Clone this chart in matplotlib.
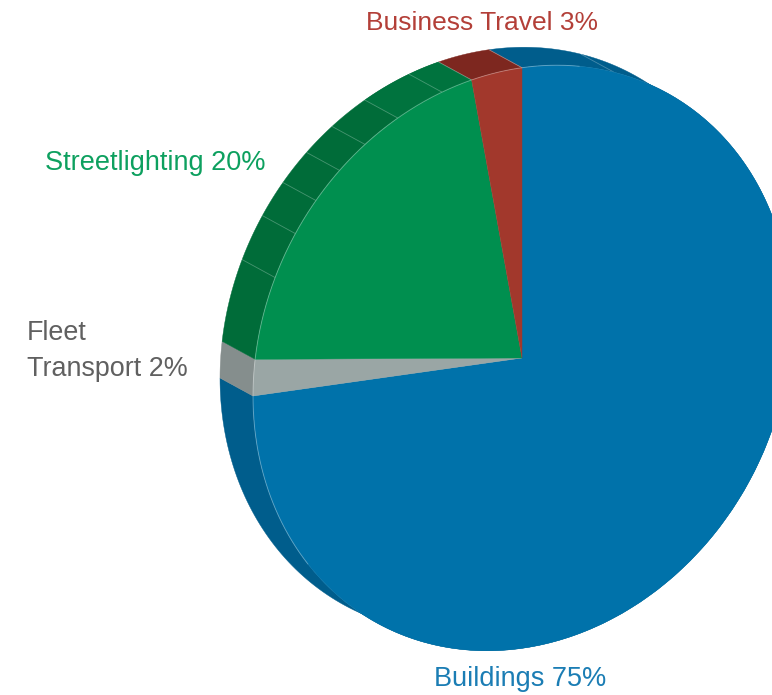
import numpy as np
import matplotlib
matplotlib.use("Agg")
import matplotlib.pyplot as plt
from matplotlib.patches import Wedge, Polygon
from matplotlib.transforms import Affine2D

plt.rcParams["font.family"] = ["Liberation Sans", "DejaVu Sans"]

# Share of emissions by sector, clockwise from twelve o'clock
categories = ["Buildings", "Fleet\nTransport", "Streetlighting", "Business Travel"]
values = [75, 2, 20, 3]
face_colors = ["#0072AA", "#9AA6A5", "#008F4F", "#A2382C"]
wall_colors = ["#005D8C", "#858E8D", "#006C39", "#7D271F"]
label_colors = ["#1B7DB4", "#606060", "#0DA05F", "#B33F38"]
label_anchor = [(434, 686), (27, 376), (45, 170), (366, 30)]
label_sizes = [19.5, 19.4, 19.5, 19.0]

# Extra creases on the rim, in degrees clockwise from twelve o'clock
rim_creases = [(0, 20.0), (2, 293.4), (2, 302.6), (2, 310.0), (2, 317.3),
               (2, 324.3), (2, 332.5), (2, 342.7)]

# Oblique projection of the unit pie onto the canvas
center = (522, 358)
x_axis = (269, -38)
y_axis = (0, -290.3)
depth = np.array([-33.0, -18.0])

fig = plt.figure(figsize=(7.72, 6.95), dpi=100)
ax = fig.add_axes([0, 0, 1, 1])
ax.set_xlim(0, 772)
ax.set_ylim(695, 0)
ax.axis("off")

proj = Affine2D.from_values(x_axis[0], x_axis[1], y_axis[0], y_axis[1], *center)


def rim(theta_deg):
    """Canvas position of rim points at clockwise angles from twelve o'clock."""
    t = np.radians(theta_deg)
    return proj.transform(np.column_stack([np.sin(t), np.cos(t)]))


# Direction of the extrusion in pie space, used to find the visible rim
offset_pie = proj.get_affine().inverted().get_matrix()[:2, :2] @ depth

edges = np.concatenate([[0], np.cumsum(values)]) * 3.6

# Side walls sit underneath everything else
for i in range(len(values)):
    th = np.linspace(edges[i], edges[i + 1], 240)
    front = rim(th)
    back = front + depth
    ax.add_patch(Polygon(np.vstack([front, back[::-1]]), closed=True,
                         facecolor=wall_colors[i], edgecolor=wall_colors[i],
                         linewidth=0.3, zorder=1))

# Slightly lighter run of wall along the top of the streetlighting slice
th = np.linspace(rim_creases[-2][1], edges[3], 60)
front = rim(th)
ax.add_patch(Polygon(np.vstack([front, (front + depth)[::-1]]), closed=True,
                     facecolor="#00733E", edgecolor="none", zorder=1.1))

# Creases and slice boundaries across the wall
for idx, ang in rim_creases:
    p = rim(np.array([ang]))[0]
    q = p + depth
    ax.plot([p[0], q[0]], [p[1], q[1]], color="white", alpha=0.28, lw=0.6,
            solid_capstyle="butt", zorder=2)
for ang in edges[:-1]:
    p = rim(np.array([ang]))[0]
    q = p + depth
    if ang != 270 and ang != 277.2:
        ax.plot([p[0], q[0]], [p[1], q[1]], color="white", alpha=0.35, lw=0.6,
                solid_capstyle="butt", zorder=2)

# Top faces of the slices
for i in range(len(values)):
    t1 = 90 - edges[i + 1]
    t2 = 90 - edges[i]
    ax.add_patch(Wedge((0, 0), 1, t1, t2, facecolor=face_colors[i],
                       edgecolor=face_colors[i], linewidth=0.3,
                       transform=proj + ax.transData, zorder=3))

# Thin highlight where the face meets a visible wall
th = np.linspace(0, 360, 1441)
t = np.radians(th)
visible = np.sin(t) * offset_pie[0] + np.cos(t) * offset_pie[1] > 0.05
pts = rim(th).astype(float)
pts[~visible] = np.nan
ax.plot(pts[:, 0], pts[:, 1], color="white", alpha=0.3, lw=0.7, zorder=4)

# Sector labels
for name, val, col, (lx, ly), size in zip(categories, values, label_colors,
                                          label_anchor, label_sizes):
    ax.text(lx, ly, f"{name} {val}%", color=col, fontsize=size, ha="left",
            va="baseline", linespacing=1.49, zorder=5)

fig.savefig("out.png", dpi=100)
